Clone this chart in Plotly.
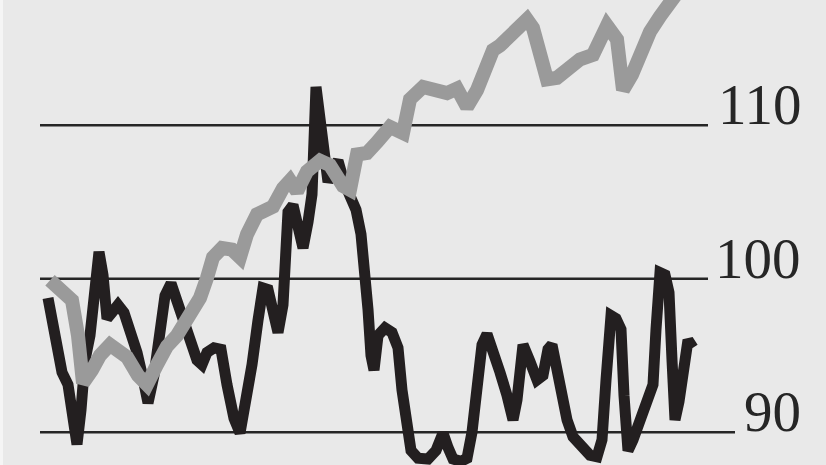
import plotly.graph_objects as go

# ---- data ----
black_days = [0, 2, 3.5, 5, 6.25, 7.25, 8.25, 9.25, 10.5, 11.5, 12.75, 13.75, 14.75, 16, 17.5, 19, 20.5,
              22.25, 23.75, 25, 26.5, 28, 29.25, 30.75, 32.25, 33.75, 35.5, 37.25, 38.5, 39.75, 41.5,
              43.25, 44.75, 46.5, 48, 49.5, 51, 52.5, 53.75, 55, 56.25, 57.5, 58.75, 60, 61.25, 62.5,
              63.75, 65, 66, 67, 68, 68.75, 70, 71.25, 72.5, 74, 75.5, 77, 78.25, 79.25, 80, 80.75,
              81.5, 82.5, 84.25, 86, 87.5, 88.5, 89.5, 90.75, 92.5, 95, 97, 98.75, 100, 101.25,
              103.25, 104.75, 106, 107.25, 108.5, 109.75, 111.25, 113, 114.75, 116.25, 117.25,
              118.75, 120.5, 122.25, 123.75, 125, 126, 127.25, 128.5, 129.75, 131.25, 133.5, 135.5,
              137.25, 138.5, 139.5, 140.75, 142, 143.25, 144, 145, 146.25, 148, 150, 151.25, 152,
              153, 154.25, 155.25, 156, 156.75, 157.75, 159, 160, 161.25]
black_values = [98.75, 96.0, 93.9, 93.1, 90.8, 89.2, 91.45, 94.7, 96.3, 98.6, 101.75, 100.25, 97.4,
                97.8, 98.3, 97.8, 96.7, 95.2, 93.5, 91.9, 93.7, 96.7, 98.9, 99.7, 98.6, 97.6, 96.0,
                94.7, 94.4, 95.2, 95.5, 95.4, 93.1, 90.9, 89.95, 91.8, 94.4, 97.3, 99.4, 99.3, 98.0,
                96.5, 98.3, 104.35, 104.8, 103.3, 102.0, 103.7, 105.5, 112.5, 110.5, 108.1, 106.3,
                107.2, 107.7, 106.3, 105.4, 104.5, 102.9, 100.6, 98.0, 95.0, 94.05, 96.3, 96.8,
                96.5, 95.5, 92.75, 90.3, 88.8, 88.3, 88.25, 88.8, 89.95, 89.0, 88.25, 88.1, 88.3,
                90.0, 93.4, 95.7, 96.4, 95.4, 93.9, 92.4, 90.8, 92.1, 95.7, 94.6, 93.4, 93.7, 95.4,
                95.7, 93.9, 92.1, 90.8, 89.7, 89.0, 88.5, 88.4, 89.5, 93.4, 97.6, 97.4, 96.7, 92.4,
                88.8, 89.5, 90.9, 92.0, 93.1, 96.7, 100.4, 100.25, 99.1, 94.7, 90.8, 92.0, 94.2,
                96.0, 95.5]

gray_days = [0.5, 3.5, 6, 7.5, 8.75, 11, 13, 15.5, 17.5, 19.75, 22.5, 24.75, 27.25, 29.75, 32.25,
             34.75, 38, 39.75, 41.25, 43.5, 46, 48, 49.75, 52.25, 54.25, 56.25, 58.75, 60.5, 62.25,
             64.75, 68, 70.5, 73.75, 75.5, 77.25, 79.75, 82.25, 85.5, 88.75, 90.5, 93.75, 96.75,
             99.75, 102.25, 104.75, 107.25, 109.75, 111.25, 113, 115.5, 117.25, 119.75, 121.25,
             123, 124.75, 127.25, 130.5, 133, 136.25, 138, 139.75, 142.25, 143.75, 146, 148,
             150.5, 153, 155.5, 157.5]
gray_values = [99.9, 99.1, 98.6, 96.3, 93.2, 94.05, 95.0, 95.7, 95.4, 94.9, 93.7, 93.1, 94.4, 95.6,
               96.3, 97.3, 98.75, 100.05, 101.4, 102.0, 101.9, 101.4, 102.9, 104.2, 104.35, 104.7,
               105.9, 106.4, 105.7, 107.0, 107.7, 107.4, 106.05, 105.8, 108.1, 108.2, 108.9,
               109.9, 109.5, 111.7, 112.5, 112.2, 112.1, 112.4, 111.2, 112.3, 114.3, 114.9, 115.2,
               115.8, 116.35, 116.9, 116.35, 114.9, 113.0, 113.1, 113.8, 114.3, 114.6, 115.6,
               116.5, 115.6, 112.3, 113.3, 114.6, 116.1, 117.1, 117.85, 118.7]

grid_levels = [110, 100, 90]
grid_labels = ["110", "100", "90"]

# ---- layout constants ----
BG = "#e9e9e9"
X_RANGE = [-12, 194.5]
Y_RANGE = [87.86, 118.17]
GRID_X0 = -2
GRID_X1 = {110: 165, 100: 165, 90: 171.75}
LABEL_X = 188.75

fig = go.Figure()

fig.add_trace(go.Scatter(x=black_days, y=black_values, mode="lines",
                         line=dict(color="#231f20", width=11), hoverinfo="skip"))
fig.add_trace(go.Scatter(x=gray_days, y=gray_values, mode="lines",
                         line=dict(color="#9a9a9a", width=14), hoverinfo="skip"))

shapes = [dict(type="rect", xref="paper", yref="paper", x0=0, x1=3 / 826, y0=0, y1=1,
               fillcolor="#f5f5f5", line=dict(width=0), layer="below")]
for lv in grid_levels:
    shapes.append(dict(type="line", xref="x", yref="y", x0=GRID_X0, x1=GRID_X1[lv], y0=lv, y1=lv,
                       line=dict(color="#262626", width=2.5), layer="below"))

annotations = []
for lv, lab in zip(grid_levels, grid_labels):
    annotations.append(dict(x=LABEL_X, y=lv, xref="x", yref="y", text=lab, showarrow=False,
                            xanchor="right", yanchor="bottom", yshift=-13,
                            font=dict(family="Liberation Serif", size=57, color="#262626")))

fig.update_layout(
    width=826, height=465,
    margin=dict(l=0, r=0, t=0, b=0),
    paper_bgcolor=BG, plot_bgcolor=BG,
    showlegend=False,
    xaxis=dict(range=X_RANGE, visible=False, fixedrange=True),
    yaxis=dict(range=Y_RANGE, visible=False, fixedrange=True),
    shapes=shapes, annotations=annotations,
)

fig.write_html("out.html", config={"displayModeBar": False},
               post_script="document.body.style.margin='0';document.body.style.overflow='hidden';")
